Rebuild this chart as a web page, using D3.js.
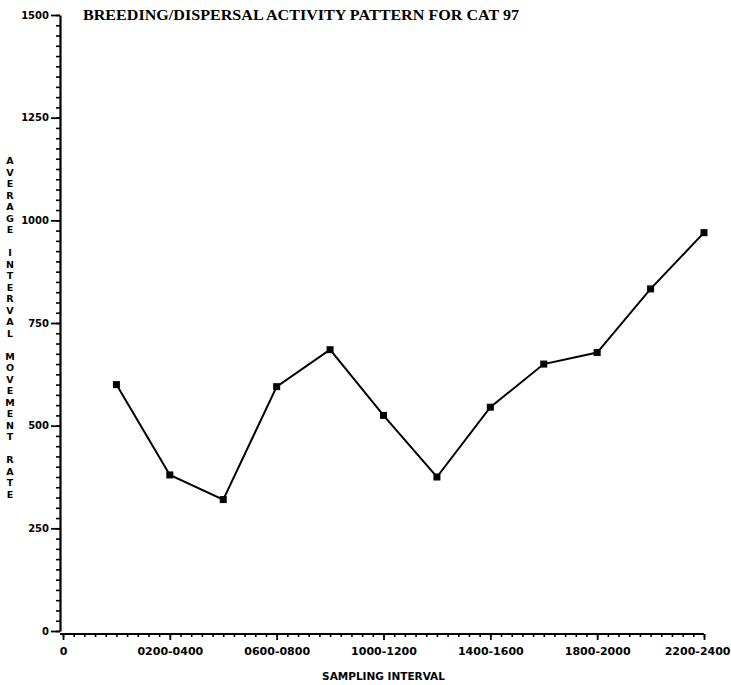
<!DOCTYPE html>
<html lang="en">
<head>
  <meta charset="UTF-8" />
  <title>Breeding/Dispersal Activity Pattern for Cat 97</title>
  <script src="https://d3js.org/d3.v7.min.js"></script>
  <style>
    body { margin: 0; background: #fff; }
    svg { display: block; }
    .tick text { font-family: "DejaVu Sans", sans-serif; font-weight: bold; fill: #000; }
  </style>
</head>
<body>
<div id="chart"></div>
<script>
// data: one value per 2-hour sampling interval
const intervals = [1, 2, 3, 4, 5, 6, 7, 8, 9, 10, 11, 12];
const rates = [600, 380, 320, 595, 685, 525, 375, 545, 650, 678, 833, 970];
const xTickPos = [0, 2, 4, 6, 8, 10, 12];
const xTickLabels = ["0", "0200-0400", "0600-0800", "1000-1200", "1400-1600", "1800-2000", "2200-2400"];
const yTicks = [0, 250, 500, 750, 1000, 1250, 1500];

const W = 731, H = 685;
const svg = d3.select("#chart").append("svg")
  .attr("width", W)
  .attr("height", H);

const x = d3.scaleLinear().domain([0, 12]).range([63, 704]);
const y = d3.scaleLinear().domain([0, 1500]).range([631, 15]);

// y axis: minor ticks every 25, major every 250
const yAxisX = 60;
svg.append("g")
  .attr("transform", `translate(${yAxisX},0)`)
  .call(d3.axisLeft(y).tickValues(d3.range(0, 1501, 25)).tickSize(4).tickFormat(""))
  .call(g => g.select(".domain").remove())
  .selectAll("line").attr("stroke", "#000").attr("stroke-width", 1.6);

svg.append("g")
  .attr("transform", `translate(${yAxisX},0)`)
  .call(d3.axisLeft(y).tickValues(yTicks).tickSize(9).tickPadding(2).tickSizeOuter(0)
    .tickFormat(d3.format("d")))
  .call(g => g.select(".domain").attr("stroke", "#000").attr("stroke-width", 2.2))
  .call(g => g.selectAll("line").attr("stroke", "#000").attr("stroke-width", 1.8))
  .call(g => g.selectAll("text").attr("font-size", 10));

// x axis
const xAxisY = 634;
svg.append("g")
  .attr("transform", `translate(0,${xAxisY})`)
  .call(d3.axisBottom(x).tickValues(d3.range(0, 12.01, 0.2)).tickSize(3).tickFormat(""))
  .call(g => g.select(".domain").remove())
  .selectAll("line").attr("stroke", "#000").attr("stroke-width", 1.6);

svg.append("g")
  .attr("transform", `translate(0,${xAxisY})`)
  .call(d3.axisBottom(x).tickValues(xTickPos).tickSize(6).tickPadding(7).tickSizeOuter(0)
    .tickFormat((d, i) => xTickLabels[i]))
  .call(g => g.select(".domain").attr("d", `M${yAxisX},0H${x(12)}`).attr("stroke", "#000").attr("stroke-width", 2.2))
  .call(g => g.selectAll("line").attr("stroke", "#000").attr("stroke-width", 1.8))
  .call(g => g.selectAll("text").attr("font-size", 11))
  // last label is pulled in so it stays on the page
  .call(g => g.selectAll("text").filter(d => d === 12).attr("text-anchor", "end").attr("x", W - 1 - x(12)));

// data line + square markers
const points = intervals.map((d, i) => ({ x: d, y: rates[i] }));
svg.append("path")
  .datum(points)
  .attr("fill", "none")
  .attr("stroke", "#000")
  .attr("stroke-width", 2)
  .attr("d", d3.line().x(d => x(d.x)).y(d => y(d.y)));

svg.selectAll(".pt")
  .data(points)
  .enter().append("rect")
  .attr("class", "pt")
  .attr("x", d => x(d.x) - 3.5)
  .attr("y", d => y(d.y) - 3.5)
  .attr("width", 7)
  .attr("height", 7)
  .attr("fill", "#000");

// title
svg.append("text")
  .attr("x", 83)
  .attr("y", 20)
  .attr("font-family", "'Liberation Serif', serif")
  .attr("font-weight", "bold")
  .attr("font-size", 15)
  .attr("textLength", 436)
  .attr("lengthAdjust", "spacingAndGlyphs")
  .attr("fill", "#000")
  .text("BREEDING/DISPERSAL ACTIVITY PATTERN FOR CAT 97");

// x axis title
svg.append("text")
  .attr("x", x(6))
  .attr("y", 680)
  .attr("text-anchor", "middle")
  .attr("font-family", "'DejaVu Sans', sans-serif")
  .attr("font-weight", "bold")
  .attr("font-size", 10.5)
  .attr("fill", "#000")
  .text("SAMPLING INTERVAL");

// y axis title, letters stacked upright
const yTitle = "AVERAGE INTERVAL MOVEMENT RATE".split("");
svg.append("g")
  .selectAll("text")
  .data(yTitle)
  .enter().append("text")
  .attr("x", 10)
  .attr("y", (d, i) => 164 + i * 11.5)
  .attr("text-anchor", "middle")
  .attr("font-family", "'DejaVu Sans', sans-serif")
  .attr("font-weight", "bold")
  .attr("font-size", 9.5)
  .attr("fill", "#000")
  .text(d => d);
</script>
</body>
</html>
